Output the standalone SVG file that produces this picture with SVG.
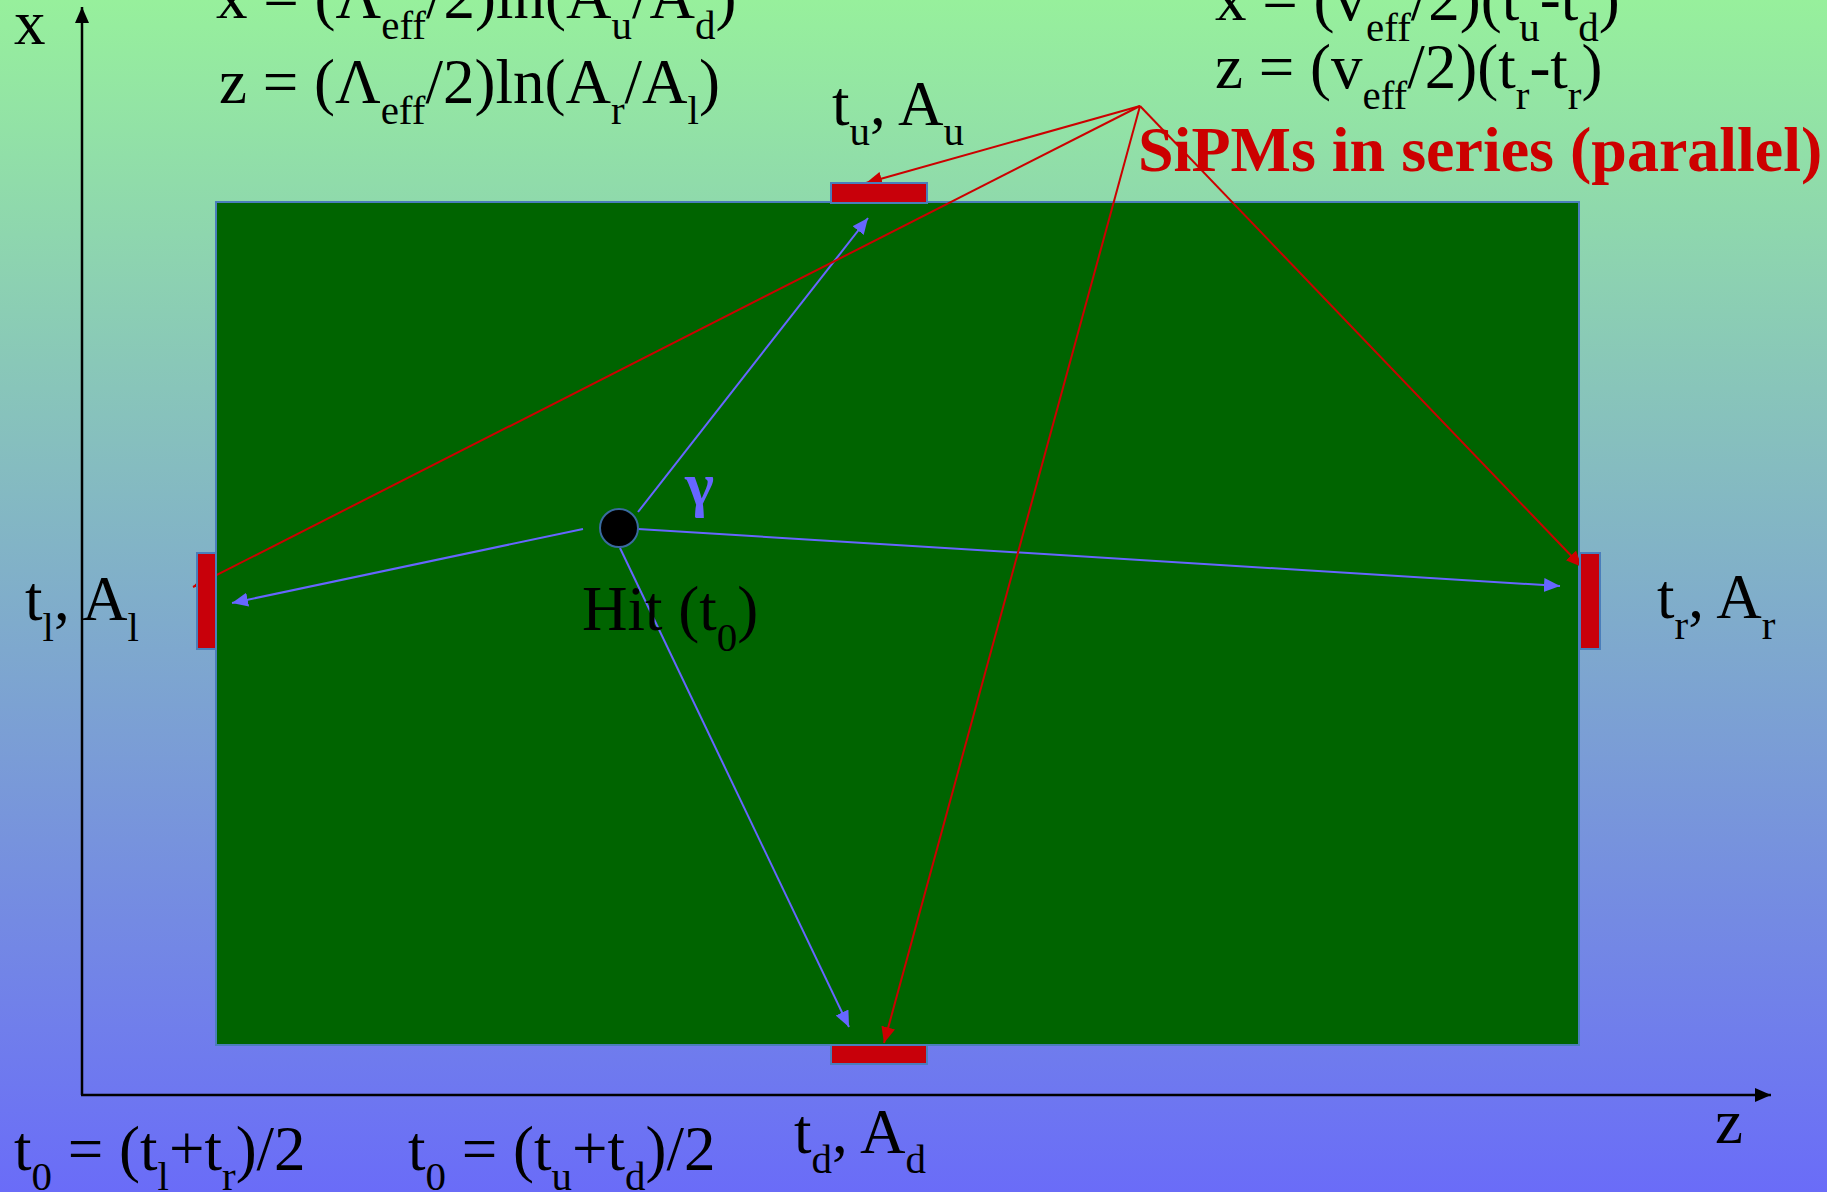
<svg xmlns="http://www.w3.org/2000/svg" width="1827" height="1192" viewBox="0 0 1827 1192">
<defs>
<linearGradient id="bg" x1="0" y1="0" x2="0" y2="1">
<stop offset="0" stop-color="#97F09C"/>
<stop offset="0.5" stop-color="#80AECA"/>
<stop offset="1" stop-color="#6A6CF8"/>
</linearGradient>
<marker id="ab" markerUnits="userSpaceOnUse" markerWidth="18" markerHeight="16" refX="16" refY="7" orient="auto">
<path d="M0,0 L16,7 L0,14 Z" fill="#6666FF"/>
</marker>
<marker id="ar" markerUnits="userSpaceOnUse" markerWidth="18" markerHeight="16" refX="16" refY="7" orient="auto">
<path d="M0,0 L16,7 L0,14 Z" fill="#CC0000"/>
</marker>
<marker id="ak" markerUnits="userSpaceOnUse" markerWidth="18" markerHeight="16" refX="16" refY="7" orient="auto">
<path d="M0,0 L16,7 L0,14 Z" fill="#000"/>
</marker>
</defs>
<style>
text{font-family:"Liberation Serif","Times New Roman",serif;font-size:63px;fill:#000}
.s{font-size:41px}
.red{fill:#CC0000;font-weight:bold;font-size:64px}
.gam{fill:#6666FF;font-weight:bold;font-size:62px}
.sensor{fill:#C8000A;stroke:#4A7EBB;stroke-width:2}
.bl{stroke:#6666FF;stroke-width:2;fill:none;marker-end:url(#ab)}
.rl{stroke:#CC0000;stroke-width:2;fill:none;marker-end:url(#ar)}
.ax{stroke:#000;stroke-width:2.5;fill:none;marker-end:url(#ak)}
</style>
<rect x="0" y="0" width="1827" height="1192" fill="url(#bg)"/>

<g id="detector"><rect x="216" y="202" width="1363" height="843" fill="#006400" stroke="#4A7EBB" stroke-width="2"/></g>

<g id="axes">
<line class="ax" x1="82" y1="1095" x2="82" y2="7"/>
<line class="ax" x1="81" y1="1095" x2="1771" y2="1095"/>
</g>

<g id="connectors">
<line class="bl" x1="638" y1="512" x2="868" y2="218"/>
<line class="bl" x1="583" y1="529" x2="232" y2="603"/>
<line class="bl" x1="638" y1="529" x2="1560" y2="586"/>
<line class="bl" x1="620" y1="548" x2="849" y2="1027"/>
<line class="rl" x1="1140" y1="106" x2="866" y2="183"/>
<line class="rl" x1="1140" y1="106" x2="193" y2="587"/>
<line class="rl" x1="1140" y1="106" x2="884" y2="1043"/>
<line class="rl" x1="1140" y1="106" x2="1582" y2="567"/>
</g>

<g id="sensor-up"><rect class="sensor" x="831" y="183" width="96" height="20"/></g>
<g id="sensor-down"><rect class="sensor" x="831" y="1045" width="96" height="19"/></g>
<g id="sensor-left"><rect class="sensor" x="197" y="553" width="19" height="96"/></g>
<g id="sensor-right"><rect class="sensor" x="1580" y="553" width="20" height="96"/></g>

<g id="hit">
<circle cx="619" cy="528" r="19" fill="#000" stroke="#3A6AA0" stroke-width="2"/>
<text x="582" y="630">Hit (t<tspan class="s" dy="21">0</tspan><tspan dy="-21">)</tspan></text>
<text class="gam" x="685" y="505">γ</text>
</g>

<g id="label-x"><text x="14" y="44">x</text></g>
<g id="label-z"><text x="1715" y="1143">z</text></g>

<g id="formula-amp">
<text x="216" y="18">x = (Λ<tspan class="s" dy="21">eff</tspan><tspan dy="-21">/2)ln(A</tspan><tspan class="s" dy="21">u</tspan><tspan dy="-21">/A</tspan><tspan class="s" dy="21">d</tspan><tspan dy="-21">)</tspan></text>
<text x="219" y="103">z = (Λ<tspan class="s" dy="21">eff</tspan><tspan dy="-21">/2)ln(A</tspan><tspan class="s" dy="21">r</tspan><tspan dy="-21">/A</tspan><tspan class="s" dy="21">l</tspan><tspan dy="-21">)</tspan></text>
</g>

<g id="formula-time">
<text x="1215" y="20">x = (v<tspan class="s" dy="21">eff</tspan><tspan dy="-21">/2)(t</tspan><tspan class="s" dy="21">u</tspan><tspan dy="-21">-t</tspan><tspan class="s" dy="21">d</tspan><tspan dy="-21">)</tspan></text>
<text x="1215" y="88">z = (v<tspan class="s" dy="21">eff</tspan><tspan dy="-21">/2)(t</tspan><tspan class="s" dy="21">r</tspan><tspan dy="-21">-t</tspan><tspan class="s" dy="21">r</tspan><tspan dy="-21">)</tspan></text>
</g>

<g id="sipm-note"><text class="red" x="1138" y="171">SiPMs in series (parallel)</text></g>

<g id="label-up"><text x="832" y="125">t<tspan class="s" dy="20">u</tspan><tspan dy="-20">, A</tspan><tspan class="s" dy="20">u</tspan></text></g>
<g id="label-left"><text x="25" y="620">t<tspan class="s" dy="21">l</tspan><tspan dy="-21">, A</tspan><tspan class="s" dy="21">l</tspan></text></g>
<g id="label-right"><text x="1657" y="618">t<tspan class="s" dy="21">r</tspan><tspan dy="-21">, A</tspan><tspan class="s" dy="21">r</tspan></text></g>
<g id="label-down"><text x="794" y="1153">t<tspan class="s" dy="20">d</tspan><tspan dy="-20">, A</tspan><tspan class="s" dy="20">d</tspan></text></g>

<g id="t0-lr"><text x="14" y="1170">t<tspan class="s" dy="20">0</tspan><tspan dy="-20"> = (t</tspan><tspan class="s" dy="20">l</tspan><tspan dy="-20">+t</tspan><tspan class="s" dy="20">r</tspan><tspan dy="-20">)/2</tspan></text></g>
<g id="t0-ud"><text x="408" y="1170">t<tspan class="s" dy="20">0</tspan><tspan dy="-20"> = (t</tspan><tspan class="s" dy="20">u</tspan><tspan dy="-20">+t</tspan><tspan class="s" dy="20">d</tspan><tspan dy="-20">)/2</tspan></text></g>
</svg>
